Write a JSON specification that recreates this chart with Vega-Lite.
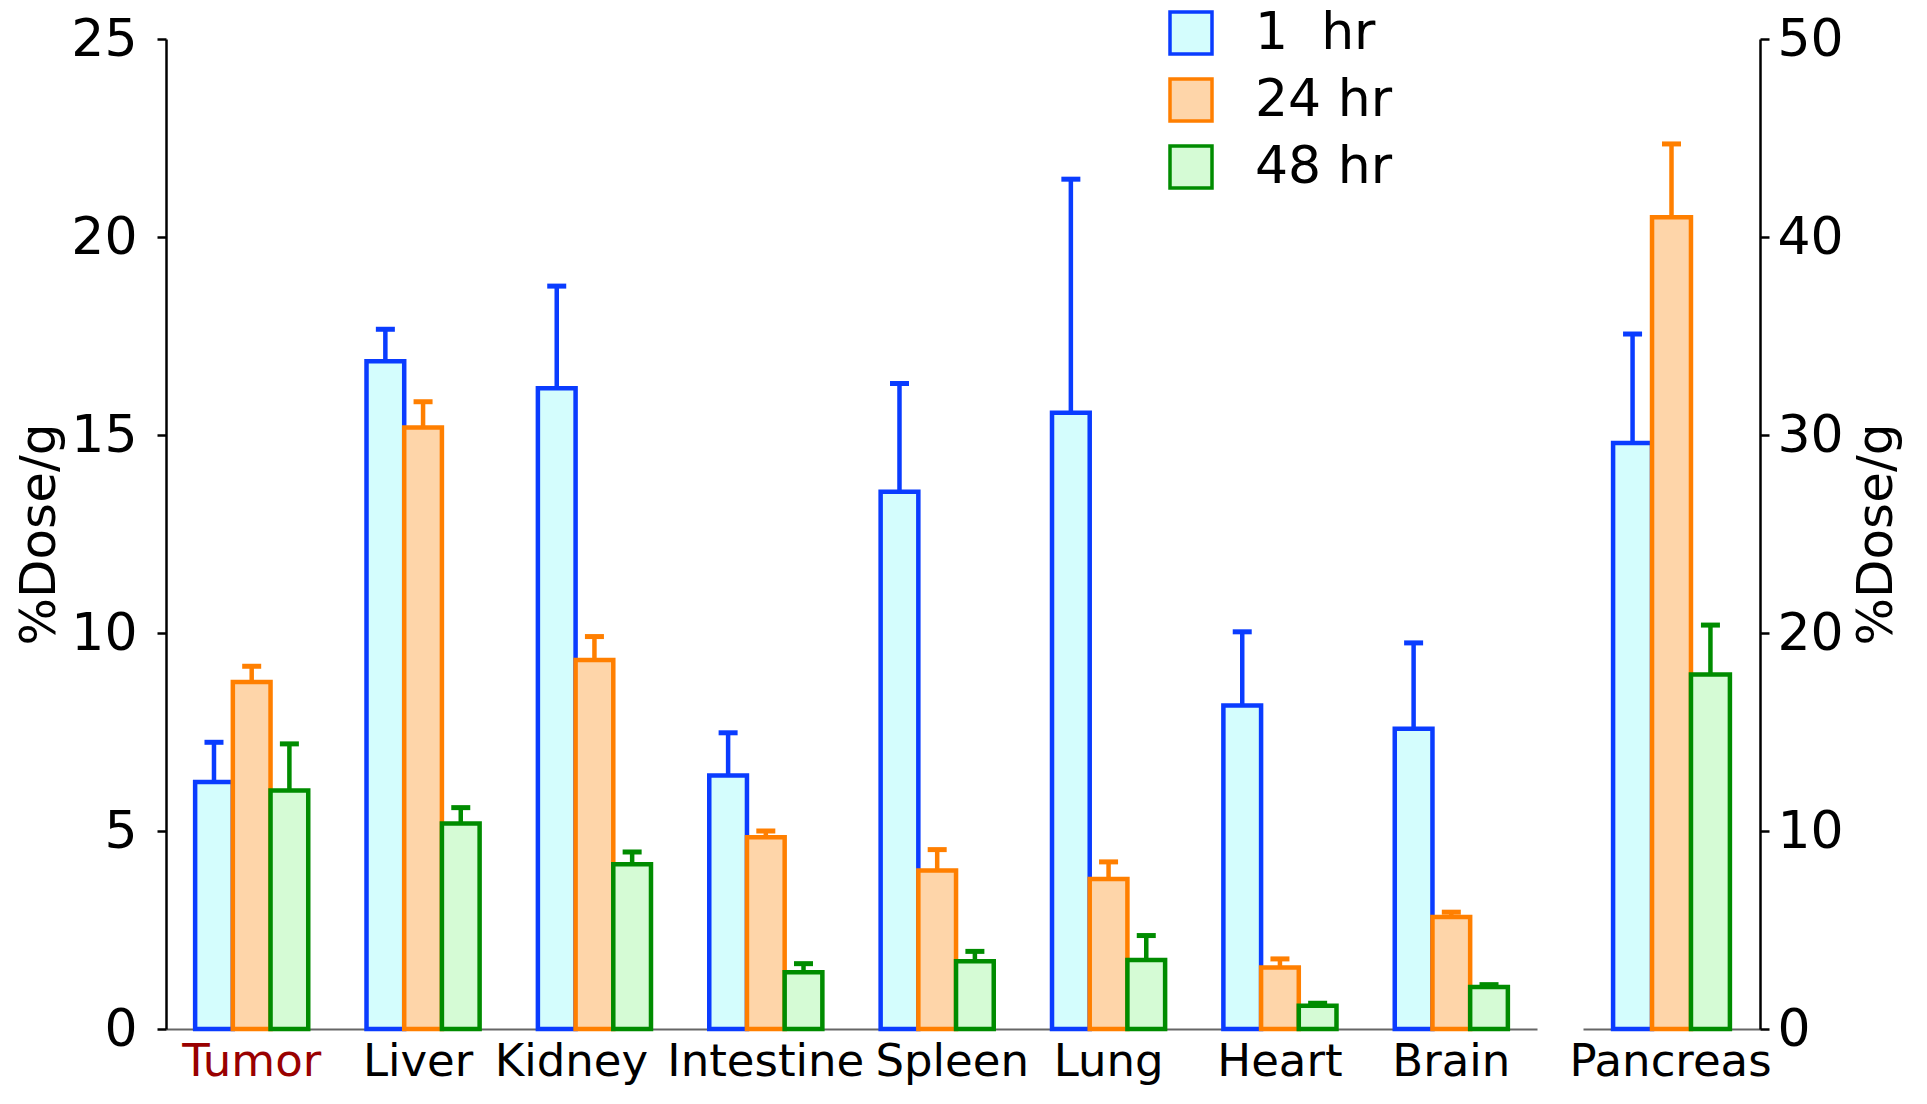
{
  "$schema": "https://vega.github.io/schema/vega-lite/v6.json",
  "padding": {"left": 14, "top": 7, "right": 12, "bottom": 12},
  "background": "white",
  "spacing": 46,
  "bounds": "flush",
  "config": {
    "view": {"stroke": null},
    "font": "DejaVu Sans",
    "axis": {"grid": false, "labelColor": "black", "titleColor": "black", "titleFontWeight": "normal", "labelFont": "DejaVu Sans", "titleFont": "DejaVu Sans"},
    "axisX": {"labelFontSize": 45, "labelAngle": 0, "ticks": false, "tickSize": 0, "domainColor": "#666666", "domainWidth": 2, "labelPadding": 10, "labelOverlap": false, "labelLimit": 0, "labelBound": false, "title": null},
    "axisY": {"labelFontSize": 52, "titleFontSize": 50, "tickSize": 9, "tickWidth": 2.5, "tickColor": "black", "domainColor": "black", "domainWidth": 2.5, "tickCount": 5, "labelPadding": 20},
    "axisLeft": {"titlePadding": 6},
    "axisRight": {"titlePadding": 8, "labelPadding": 8, "titleAngle": 270, "titleBaseline": "top"}
  },
  "datasets": {
    "main": [
      {"organ": "Tumor", "time": "1 hr", "value": 6.24, "upper": 7.24},
      {"organ": "Tumor", "time": "24 hr", "value": 8.76, "upper": 9.16},
      {"organ": "Tumor", "time": "48 hr", "value": 6.02, "upper": 7.2},
      {"organ": "Liver", "time": "1 hr", "value": 16.86, "upper": 17.67},
      {"organ": "Liver", "time": "24 hr", "value": 15.19, "upper": 15.84},
      {"organ": "Liver", "time": "48 hr", "value": 5.19, "upper": 5.59},
      {"organ": "Kidney", "time": "1 hr", "value": 16.18, "upper": 18.76},
      {"organ": "Kidney", "time": "24 hr", "value": 9.32, "upper": 9.91},
      {"organ": "Kidney", "time": "48 hr", "value": 4.16, "upper": 4.47},
      {"organ": "Intestine", "time": "1 hr", "value": 6.4, "upper": 7.48},
      {"organ": "Intestine", "time": "24 hr", "value": 4.84, "upper": 5.0},
      {"organ": "Intestine", "time": "48 hr", "value": 1.43, "upper": 1.65},
      {"organ": "Spleen", "time": "1 hr", "value": 13.57, "upper": 16.3},
      {"organ": "Spleen", "time": "24 hr", "value": 4.0, "upper": 4.53},
      {"organ": "Spleen", "time": "48 hr", "value": 1.71, "upper": 1.96},
      {"organ": "Lung", "time": "1 hr", "value": 15.56, "upper": 21.46},
      {"organ": "Lung", "time": "24 hr", "value": 3.79, "upper": 4.22},
      {"organ": "Lung", "time": "48 hr", "value": 1.74, "upper": 2.36},
      {"organ": "Heart", "time": "1 hr", "value": 8.17, "upper": 10.03},
      {"organ": "Heart", "time": "24 hr", "value": 1.55, "upper": 1.77},
      {"organ": "Heart", "time": "48 hr", "value": 0.59, "upper": 0.65},
      {"organ": "Brain", "time": "1 hr", "value": 7.58, "upper": 9.75},
      {"organ": "Brain", "time": "24 hr", "value": 2.83, "upper": 2.95},
      {"organ": "Brain", "time": "48 hr", "value": 1.06, "upper": 1.12}
    ],
    "panc": [
      {"organ": "Pancreas", "time": "1 hr", "value": 29.6, "upper": 35.1},
      {"organ": "Pancreas", "time": "24 hr", "value": 41.0, "upper": 44.7},
      {"organ": "Pancreas", "time": "48 hr", "value": 17.9, "upper": 20.4}
    ]
  },
  "resolve": {
    "scale": {"x": "independent", "y": "independent", "fill": "independent", "stroke": "independent", "color": "independent", "xOffset": "independent"},
    "legend": {"fill": "independent", "stroke": "independent", "color": "independent"}
  },
  "hconcat": [
    {
      "width": 1371,
      "height": 990,
      "data": {"name": "main"},
      "encoding": {
        "x": {
          "field": "organ", "type": "nominal",
          "sort": ["Tumor", "Liver", "Kidney", "Intestine", "Spleen", "Lung", "Heart", "Brain"],
          "scale": {"paddingInner": 0.34, "paddingOuter": 0.17},
          "axis": {
            "labelColor": {"condition": {"test": "datum.value == 'Tumor'", "value": "#990000"}, "value": "black"},
            "labelOffset": {"condition": [
              {"test": "datum.value == 'Kidney'", "value": -23},
              {"test": "datum.value == 'Spleen'", "value": 15},
              {"test": "datum.value == 'Liver'", "value": -5}
            ], "value": 0}
          }
        },
        "xOffset": {"field": "time", "type": "nominal", "sort": ["1 hr", "24 hr", "48 hr"], "scale": {"paddingInner": 0, "paddingOuter": 0}}
      },
      "layer": [
        {
          "mark": {"type": "bar", "strokeWidth": 4.5},
          "encoding": {
            "y": {"field": "value", "type": "quantitative", "title": "%Dose/g", "scale": {"domain": [0, 25], "nice": false}},
            "fill": {"field": "time", "type": "nominal",
              "scale": {"domain": ["1 hr", "24 hr", "48 hr"], "range": ["#d4fdfd", "#fed5a9", "#d5fbd5"]},
              "legend": {"title": null, "orient": "none", "legendX": 999, "legendY": -32, "padding": 0, "symbolType": "square", "symbolSize": 1764, "symbolStrokeWidth": 3.5, "labelFontSize": 52, "labelOffset": 38, "rowPadding": 11,
                "labelExpr": "datum.label == '1 hr' ? '1\u00a0\u00a0hr' : datum.label"}},
            "stroke": {"field": "time", "type": "nominal",
              "scale": {"domain": ["1 hr", "24 hr", "48 hr"], "range": ["#0a3cff", "#ff7f00", "#008c00"]},
              "legend": {"title": null, "orient": "none", "legendX": 999, "legendY": -32, "padding": 0, "symbolType": "square", "symbolSize": 1764, "symbolStrokeWidth": 3.5, "labelFontSize": 52, "labelOffset": 38, "rowPadding": 11,
                "labelExpr": "datum.label == '1 hr' ? '1\u00a0\u00a0hr' : datum.label"}}
          }
        },
        {
          "mark": {"type": "rule", "strokeWidth": 4.5},
          "encoding": {
            "y": {"field": "value", "type": "quantitative", "title": "%Dose/g"},
            "y2": {"field": "upper"},
            "color": {"field": "time", "type": "nominal", "scale": {"domain": ["1 hr", "24 hr", "48 hr"], "range": ["#0a3cff", "#ff7f00", "#008c00"]}, "legend": null}
          }
        },
        {
          "mark": {"type": "tick", "thickness": 5, "size": 19, "opacity": 1},
          "encoding": {
            "y": {"field": "upper", "type": "quantitative", "title": "%Dose/g"},
            "color": {"field": "time", "type": "nominal", "scale": {"domain": ["1 hr", "24 hr", "48 hr"], "range": ["#0a3cff", "#ff7f00", "#008c00"]}, "legend": null}
          }
        }
      ]
    },
    {
      "width": 177,
      "height": 990,
      "data": {"name": "panc"},
      "encoding": {
        "x": {"field": "organ", "type": "nominal", "scale": {"paddingInner": 0.34, "paddingOuter": 0.17}, "axis": {"labelOffset": -1}},
        "xOffset": {"field": "time", "type": "nominal", "sort": ["1 hr", "24 hr", "48 hr"], "scale": {"paddingInner": 0, "paddingOuter": 0}}
      },
      "layer": [
        {
          "mark": {"type": "bar", "strokeWidth": 4.5},
          "encoding": {
            "y": {"field": "value", "type": "quantitative", "title": "%Dose/g", "scale": {"domain": [0, 50], "nice": false}, "axis": {"orient": "right"}},
            "fill": {"field": "time", "type": "nominal", "scale": {"domain": ["1 hr", "24 hr", "48 hr"], "range": ["#d4fdfd", "#fed5a9", "#d5fbd5"]}, "legend": null},
            "stroke": {"field": "time", "type": "nominal", "scale": {"domain": ["1 hr", "24 hr", "48 hr"], "range": ["#0a3cff", "#ff7f00", "#008c00"]}, "legend": null}
          }
        },
        {
          "mark": {"type": "rule", "strokeWidth": 4.5},
          "encoding": {
            "y": {"field": "value", "type": "quantitative", "title": "%Dose/g", "axis": {"orient": "right"}},
            "y2": {"field": "upper"},
            "color": {"field": "time", "type": "nominal", "scale": {"domain": ["1 hr", "24 hr", "48 hr"], "range": ["#0a3cff", "#ff7f00", "#008c00"]}, "legend": null}
          }
        },
        {
          "mark": {"type": "tick", "thickness": 5, "size": 19, "opacity": 1},
          "encoding": {
            "y": {"field": "upper", "type": "quantitative", "title": "%Dose/g", "axis": {"orient": "right"}},
            "color": {"field": "time", "type": "nominal", "scale": {"domain": ["1 hr", "24 hr", "48 hr"], "range": ["#0a3cff", "#ff7f00", "#008c00"]}, "legend": null}
          }
        }
      ]
    }
  ]
}
